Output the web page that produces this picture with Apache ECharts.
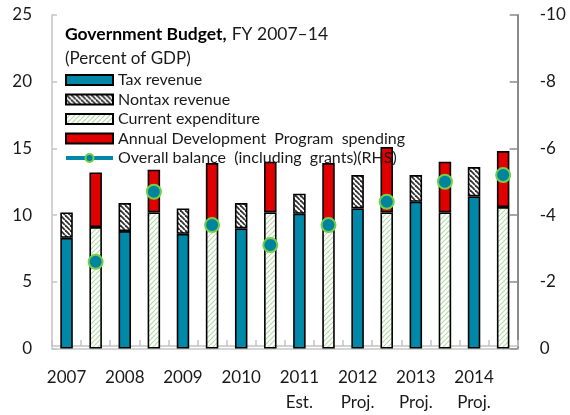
<!DOCTYPE html>
<html>
<head>
<meta charset="utf-8">
<script src="https://cdn.jsdelivr.net/npm/echarts@6/dist/echarts.min.js"></script>
<style>
  html, body { margin: 0; padding: 0; background: #fff; }
  #chart { width: 570px; height: 415px; }
</style>
</head>
<body>
<div id="chart"></div>
<script>
// Fiscal years and the note printed under each year label
var years = ['2007', '2008', '2009', '2010', '2011', '2012', '2013', '2014'];
var yearNotes = ['', '', '', '', 'Est.', 'Proj.', 'Proj.', 'Proj.'];

// Revenue components (percent of GDP)
var taxRevenue    = [8.3, 8.8, 8.6, 9.0, 10.1, 10.5, 11.0, 11.4];
var nontaxRevenue = [1.9, 2.1, 1.9, 1.9, 1.5, 2.5, 2.0, 2.2];

// Expenditure components (percent of GDP)
var currentExpenditure = [9.1, 10.2, 9.6, 10.2, 9.6, 10.2, 10.2, 10.6];
var adpSpending        = [4.1, 3.2, 4.3, 3.8, 4.3, 4.9, 3.8, 4.2];

// Overall balance including grants (percent of GDP, right-hand scale)
var overallBalance = [-2.6, -4.7, -3.7, -3.1, -3.7, -4.4, -5.0, -5.2];

// Axis ticks
var leftTicks = { min: 0, max: 25, interval: 5 };
var rightTicks = { min: -10, max: 0, interval: 2 };

var FONT = 'Lato, "Open Sans", sans-serif';
var TEXT = '#1a1a1a';
var TEAL = '#0088A8';

// Each year gets two slots: revenue bar, then expenditure bar
var slotLabels = [];
years.forEach(function (y, i) {
  slotLabels.push(yearNotes[i] ? y + '\n' + yearNotes[i] : y);
  slotLabels.push('');
});
function onRevenue(arr) {
  var out = [];
  arr.forEach(function (v) { out.push(v, '-'); });
  return out;
}
function onExpenditure(arr) {
  var out = [];
  arr.forEach(function (v) { out.push('-', v); });
  return out;
}

// Diagonal hatch fills
function hatch(stroke, width, dir, s) {
  var c = document.createElement('canvas');
  c.width = s; c.height = s;
  var ctx = c.getContext('2d');
  ctx.fillStyle = '#ffffff';
  ctx.fillRect(0, 0, s, s);
  ctx.strokeStyle = stroke;
  ctx.lineWidth = width;
  for (var k = -1; k <= 1; k++) {
    ctx.beginPath();
    if (dir === 'down') {
      ctx.moveTo(k * s, 0); ctx.lineTo(k * s + s, s);
    } else {
      ctx.moveTo(k * s, s); ctx.lineTo(k * s + s, 0);
    }
    ctx.stroke();
  }
  return { image: c, repeat: 'repeat' };
}
var nontaxFill = hatch('#333333', 1.8, 'down', 5);
var currentFill = hatch('#b3dba6', 1.2, 'up', 5);

var barBorder = { borderColor: '#000', borderWidth: 1.6 };
function barStyle(color) {
  return Object.assign({ color: color }, barBorder);
}

var chart = echarts.init(document.getElementById('chart'), null, { renderer: 'canvas' });

chart.setOption({
  animation: false,
  backgroundColor: '#fff',
  title: [
    {
      text: '{b|Government Budget,} {r|FY 2007\u201314}',
      left: 65, top: 25, padding: 0,
      textStyle: {
        rich: {
          b: { fontFamily: FONT, fontSize: 17.5, fontWeight: 'bold', color: '#000' },
          r: { fontFamily: FONT, fontSize: 17.5, fontWeight: 'normal', color: TEXT }
        }
      }
    },
    {
      text: '(Percent of GDP)',
      left: 65, top: 50, padding: 0,
      textStyle: { fontFamily: FONT, fontSize: 17, fontWeight: 'normal', color: TEXT }
    }
  ],
  legend: {
    orient: 'vertical',
    left: 64, top: 72, padding: 0,
    itemWidth: 47, itemHeight: 10, itemGap: 3.5,
    textStyle: { fontFamily: FONT, fontSize: 16, lineHeight: 14, color: TEXT },
    data: [
      { name: 'Tax revenue', icon: 'rect' },
      { name: 'Nontax revenue', icon: 'rect' },
      { name: 'Current expenditure', icon: 'rect' },
      { name: 'Annual Development  Program  spending', icon: 'rect' },
      { name: 'Overall balance  (including  grants)(RHS)',
        lineStyle: { width: 4, color: TEAL, opacity: 1 } }
    ]
  },
  grid: { left: 52, right: 52.3, top: 15, bottom: 66.5, containLabel: false },
  xAxis: [
    {
      type: 'category',
      data: slotLabels,
      offset: -2.5,
      axisLine: { lineStyle: { color: '#c4c4c4', width: 1.5 } },
      axisTick: { show: true, inside: true, length: 6, interval: 0,
                  lineStyle: { color: '#c4c4c4', width: 1.5 } },
      axisLabel: { interval: 0, margin: 19, fontFamily: FONT, fontSize: 17,
                   lineHeight: 25, color: TEXT, align: 'center' }
    },
    {
      type: 'category',
      data: slotLabels,
      position: 'top',
      axisLine: { show: true, lineStyle: { color: '#c8c8c8', width: 1.5 } },
      axisTick: { show: false },
      axisLabel: { show: false }
    }
  ],
  yAxis: [
    {
      type: 'value',
      min: leftTicks.min, max: leftTicks.max, interval: leftTicks.interval,
      position: 'left',
      axisLine: { show: true, lineStyle: { color: '#c4c4c4', width: 1.5 } },
      axisTick: { show: true, inside: true, length: 5, lineStyle: { color: '#c4c4c4', width: 1.5 } },
      splitLine: { show: false },
      axisLabel: { margin: 20, fontFamily: FONT, fontSize: 17, color: TEXT }
    },
    {
      type: 'value',
      min: rightTicks.min, max: rightTicks.max, interval: rightTicks.interval,
      inverse: true,
      position: 'right',
      axisLine: { show: true, lineStyle: { color: '#8a8a8a', width: 2 } },
      axisTick: { show: true, inside: true, length: 8, lineStyle: { color: '#8a8a8a', width: 1.5 } },
      splitLine: { show: false },
      axisLabel: { margin: 22, fontFamily: FONT, fontSize: 17, color: TEXT }
    }
  ],
  series: [
    {
      name: 'Tax revenue', type: 'bar', stack: 'budget', barWidth: 12.5,
      itemStyle: barStyle(TEAL),
      data: onRevenue(taxRevenue)
    },
    {
      name: 'Nontax revenue', type: 'bar', stack: 'budget', barWidth: 12.5,
      itemStyle: barStyle(nontaxFill),
      data: onRevenue(nontaxRevenue)
    },
    {
      name: 'Current expenditure', type: 'bar', stack: 'budget', barWidth: 12.5,
      itemStyle: barStyle(currentFill),
      data: onExpenditure(currentExpenditure)
    },
    {
      name: 'Annual Development  Program  spending', type: 'bar', stack: 'budget', barWidth: 12.5,
      itemStyle: barStyle('#e00000'),
      data: onExpenditure(adpSpending)
    },
    {
      name: 'Overall balance  (including  grants)(RHS)', type: 'line', yAxisIndex: 1,
      symbol: 'circle', symbolSize: 14, showAllSymbol: true,
      lineStyle: { width: 0, opacity: 0 },
      itemStyle: { color: '#00849E', borderColor: '#74cf45', borderWidth: 2 },
      z: 5,
      data: onExpenditure(overallBalance)
    }
  ]
});
</script>
</body>
</html>
